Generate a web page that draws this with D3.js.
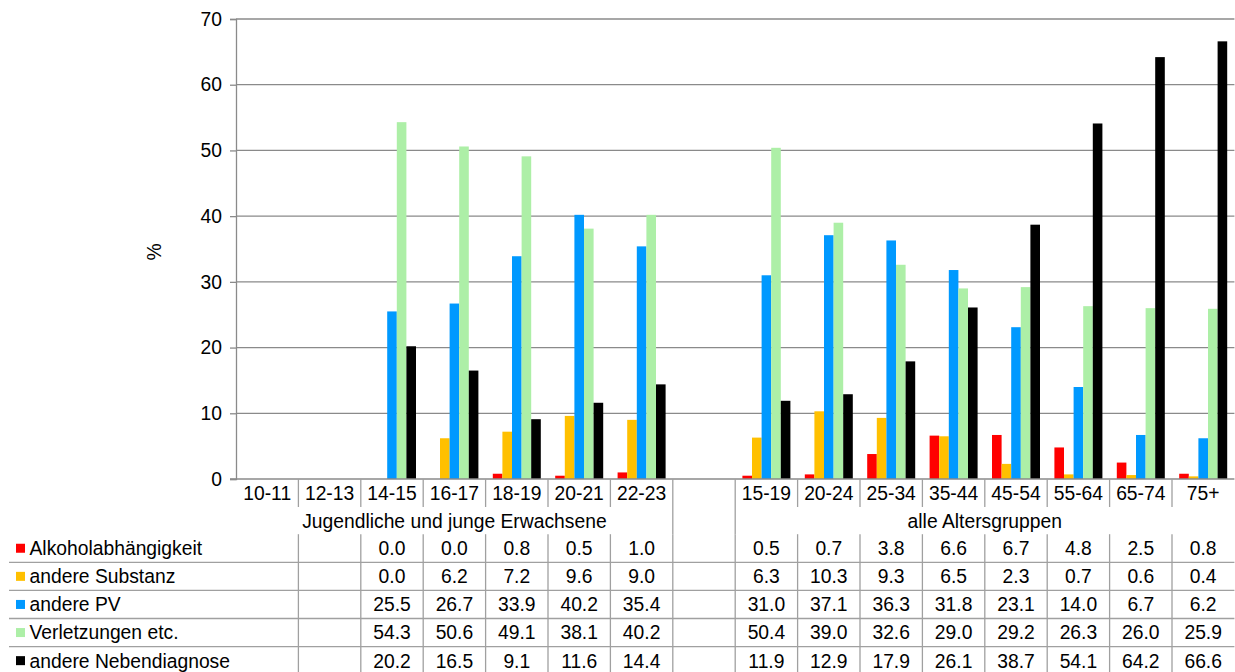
<!DOCTYPE html>
<html>
<head>
<meta charset="utf-8">
<script src="https://cdn.jsdelivr.net/npm/d3@7"></script>
<style>
  body { margin: 0; background: #fff; }
  svg { display: block; font-family: "Liberation Sans", Arial, sans-serif; }
</style>
</head>
<body>
<div id="chart"></div>
<script>
// categories: youth groups, a spacer, then all age groups
var youthCats = ["10-11", "12-13", "14-15", "16-17", "18-19", "20-21", "22-23"];
var allCats = ["15-19", "20-24", "25-34", "35-44", "45-54", "55-64", "65-74", "75+"];
var groupLabels = ["Jugendliche und junge Erwachsene", "alle Altersgruppen"];

var seriesNames = ["Alkoholabhängigkeit", "andere Substanz", "andere PV", "Verletzungen etc.", "andere Nebendiagnose"];
var seriesColors = ["#ff0000", "#ffc000", "#0099ff", "#adefa7", "#000000"];

// values, youth groups (null = no data)
var alkYouth = [null, null, 0.0, 0.0, 0.8, 0.5, 1.0];
var subYouth = [null, null, 0.0, 6.2, 7.2, 9.6, 9.0];
var pvYouth = [null, null, 25.5, 26.7, 33.9, 40.2, 35.4];
var verlYouth = [null, null, 54.3, 50.6, 49.1, 38.1, 40.2];
var nebYouth = [null, null, 20.2, 16.5, 9.1, 11.6, 14.4];

// values, all age groups
var alkAll = [0.5, 0.7, 3.8, 6.6, 6.7, 4.8, 2.5, 0.8];
var subAll = [6.3, 10.3, 9.3, 6.5, 2.3, 0.7, 0.6, 0.4];
var pvAll = [31.0, 37.1, 36.3, 31.8, 23.1, 14.0, 6.7, 6.2];
var verlAll = [50.4, 39.0, 32.6, 29.0, 29.2, 26.3, 26.0, 25.9];
var nebAll = [11.9, 12.9, 17.9, 26.1, 38.7, 54.1, 64.2, 66.6];

var yTicks = [0, 10, 20, 30, 40, 50, 60, 70];

var GAP = "__gap__";
var youthSeries = [alkYouth, subYouth, pvYouth, verlYouth, nebYouth];
var allSeries = [alkAll, subAll, pvAll, verlAll, nebAll];

// build rows: one per category
var rows = [];
youthCats.forEach(function(c, i) {
    rows.push({cat: c, values: youthSeries.map(function(s) { return s[i]; })});
});
rows.push({cat: GAP, values: [null, null, null, null, null]});
allCats.forEach(function(c, i) {
    rows.push({cat: c, values: allSeries.map(function(s) { return s[i]; })});
});

var svgWidth = 1235, svgHeight = 672;
var plotLeft = 236, plotRight = 1234.4, plotTop = 19, plotBottom = 479;
var fontSize = 19.3;
var gridColor = "#8a8a8a", tableColor = "#a0a0a0";

var svg = d3.select("#chart").append("svg")
    .attr("width", svgWidth)
    .attr("height", svgHeight);

var x = d3.scaleBand()
    .domain(rows.map(function(d) { return d.cat; }))
    .range([plotLeft, plotRight])
    .paddingInner(0)
    .paddingOuter(0);

var x1 = d3.scaleBand()
    .domain(seriesNames)
    .range([0, x.bandwidth()])
    .paddingInner(0)
    .paddingOuter(0.75);

var y = d3.scaleLinear().domain([0, 70]).range([plotBottom, plotTop]);

// gridlines
svg.append("g")
    .selectAll("line")
    .data(yTicks.filter(function(t) { return t > 0; }))
    .enter().append("line")
    .attr("x1", plotLeft).attr("x2", plotRight)
    .attr("y1", function(d) { return y(d); })
    .attr("y2", function(d) { return y(d); })
    .attr("stroke", gridColor)
    .attr("stroke-width", 1.3);

// y axis
var yAxis = d3.axisLeft(y).tickValues(yTicks).tickSize(6).tickPadding(8).tickFormat(d3.format("d"));
var yg = svg.append("g")
    .attr("transform", "translate(" + plotLeft + ",0)")
    .call(yAxis);
yg.select(".domain").attr("stroke", gridColor).attr("stroke-width", 1.3);
yg.selectAll(".tick line").attr("stroke", gridColor).attr("stroke-width", 1.3);
yg.selectAll(".tick text")
    .attr("font-size", fontSize)
    .attr("font-family", "Liberation Sans, Arial, sans-serif")
    .attr("fill", "#000");

svg.append("text")
    .attr("transform", "translate(161,252) rotate(-90)")
    .attr("text-anchor", "middle")
    .attr("font-size", fontSize)
    .text("%");

// bars
var groups = svg.append("g").selectAll("g")
    .data(rows)
    .enter().append("g")
    .attr("transform", function(d) { return "translate(" + x(d.cat) + ",0)"; });

groups.selectAll("rect")
    .data(function(d) {
        return d.values.map(function(v, i) { return {name: seriesNames[i], value: v, color: seriesColors[i]}; })
            .filter(function(e) { return e.value !== null && e.value > 0; });
    })
    .enter().append("rect")
    .attr("x", function(d) { return x1(d.name); })
    .attr("width", x1.bandwidth())
    .attr("y", function(d) { return y(d.value); })
    .attr("height", function(d) { return y(0) - y(d.value); })
    .attr("fill", function(d) { return d.color; });

// x axis line
svg.append("line")
    .attr("x1", plotLeft - 6).attr("x2", plotRight)
    .attr("y1", plotBottom).attr("y2", plotBottom)
    .attr("stroke", gridColor).attr("stroke-width", 1.3);

// data table
var catRowBottom = 507, groupRowBottom = 534.2, rowH = 28.1;
var table = svg.append("g");
var boundaries = d3.range(1, rows.length).map(function(i) { return x(rows[i].cat); });
var gapLeft = x(GAP), gapRight = x(GAP) + x.bandwidth();

// vertical lines in category row
table.selectAll(".vcat")
    .data(boundaries)
    .enter().append("line")
    .attr("x1", function(d) { return d; }).attr("x2", function(d) { return d; })
    .attr("y1", plotBottom).attr("y2", catRowBottom)
    .attr("stroke", tableColor).attr("stroke-width", 1.3);

// vertical lines in data rows
table.selectAll(".vdata")
    .data(boundaries)
    .enter().append("line")
    .attr("x1", function(d) { return d; }).attr("x2", function(d) { return d; })
    .attr("y1", groupRowBottom).attr("y2", svgHeight)
    .attr("stroke", tableColor).attr("stroke-width", 1.3);

// gap column borders through the group row
table.selectAll(".vgap")
    .data([gapLeft, gapRight])
    .enter().append("line")
    .attr("x1", function(d) { return d; }).attr("x2", function(d) { return d; })
    .attr("y1", catRowBottom).attr("y2", groupRowBottom)
    .attr("stroke", tableColor).attr("stroke-width", 1.3);

// horizontal lines between data rows
table.selectAll(".hrow")
    .data(d3.range(1, 5))
    .enter().append("line")
    .attr("x1", 9).attr("x2", plotRight)
    .attr("y1", function(d) { return groupRowBottom + d * rowH; })
    .attr("y2", function(d) { return groupRowBottom + d * rowH; })
    .attr("stroke", tableColor).attr("stroke-width", 1.3);

// category labels
table.selectAll(".catlabel")
    .data(rows.filter(function(d) { return d.cat !== GAP; }))
    .enter().append("text")
    .attr("x", function(d) { return x(d.cat) + x.bandwidth() / 2; })
    .attr("y", 493 + 6.9)
    .attr("text-anchor", "middle")
    .attr("font-size", fontSize)
    .text(function(d) { return d.cat; });

// group labels
var groupSpans = [[x(youthCats[0]), gapLeft], [gapRight, x(allCats[allCats.length - 1]) + x.bandwidth()]];
table.selectAll(".grouplabel")
    .data(groupLabels)
    .enter().append("text")
    .attr("x", function(d, i) { return (groupSpans[i][0] + groupSpans[i][1]) / 2; })
    .attr("y", 521 + 6.9)
    .attr("text-anchor", "middle")
    .attr("font-size", fontSize)
    .text(function(d) { return d; });

// legend keys and series names
seriesNames.forEach(function(name, si) {
    var cy = groupRowBottom + rowH * si + rowH / 2;
    table.append("rect")
        .attr("x", 16).attr("y", cy - 4.5)
        .attr("width", 9).attr("height", 9)
        .attr("fill", seriesColors[si]);
    table.append("text")
        .attr("x", 29.5).attr("y", cy + 6.9)
        .attr("font-size", fontSize)
        .text(name);
    table.selectAll(".val" + si)
        .data(rows.filter(function(d) { return d.cat !== GAP && d.values[si] !== null; }))
        .enter().append("text")
        .attr("x", function(d) { return x(d.cat) + x.bandwidth() / 2; })
        .attr("y", cy + 6.9)
        .attr("text-anchor", "middle")
        .attr("font-size", fontSize)
        .text(function(d) { return d.values[si].toFixed(1); });
});
</script>
</body>
</html>
